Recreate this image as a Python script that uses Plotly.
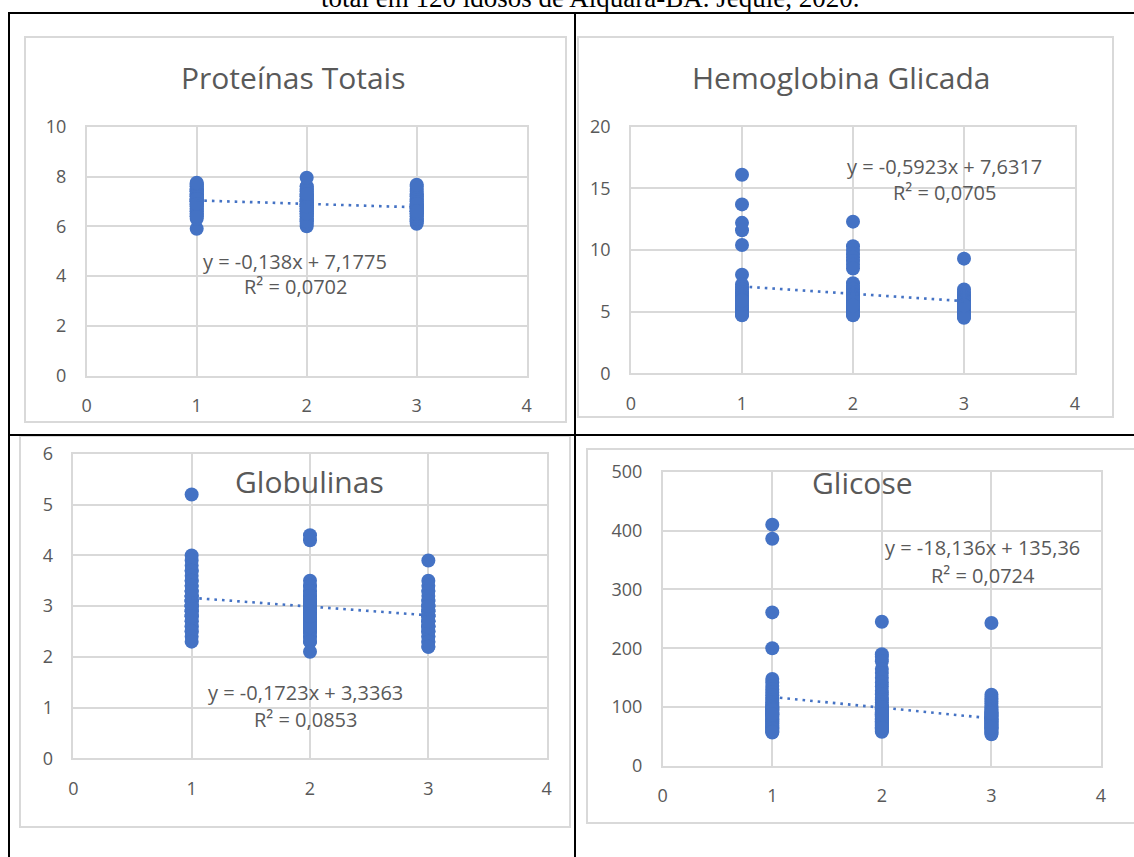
import plotly.graph_objects as go

W, H = 1134, 857

# ---- data: values per group (x = 1, 2, 3) ----
group_x = [1, 2, 3]

prot_g1 = [5.9, 6.3, 6.4, 6.5, 6.5, 6.6, 6.6, 6.7, 6.7, 6.8, 6.8, 6.9, 6.9, 7.0, 7.0, 7.0,
           7.1, 7.1, 7.1, 7.2, 7.2, 7.2, 7.3, 7.3, 7.3, 7.4, 7.4, 7.4, 7.5, 7.5, 7.5, 7.6,
           7.6, 7.7, 7.7, 7.75, 6.4, 7.0, 7.1, 6.9]
prot_g2 = [6.0, 6.1, 6.2, 6.3, 6.3, 6.4, 6.4, 6.5, 6.5, 6.6, 6.6, 6.7, 6.7, 6.7, 6.8, 6.8,
           6.8, 6.9, 6.9, 6.9, 7.0, 7.0, 7.0, 7.1, 7.1, 7.1, 7.2, 7.2, 7.3, 7.3, 7.4, 7.4,
           7.5, 7.5, 7.6, 7.6, 7.95, 6.2, 6.6, 7.0, 6.9, 7.2, 6.5, 6.8, 7.3]
prot_g3 = [6.1, 6.2, 6.2, 6.3, 6.3, 6.4, 6.4, 6.5, 6.5, 6.6, 6.6, 6.6, 6.7, 6.7, 6.7, 6.8,
           6.8, 6.8, 6.9, 6.9, 7.0, 7.0, 7.1, 7.1, 7.2, 7.2, 7.3, 7.3, 7.4, 7.5, 7.6, 7.67,
           6.5, 6.9, 6.6]

hba_g1 = [16.1, 13.7, 12.2, 11.6, 10.4, 8.0, 7.2, 7.0, 6.8, 6.6, 6.5, 6.3, 6.2, 6.1, 6.0,
          5.9, 5.8, 5.8, 5.7, 5.6, 5.6, 5.5, 5.5, 5.4, 5.4, 5.3, 5.3, 5.2, 5.2, 5.1, 5.1,
          5.0, 5.0, 4.9, 4.9, 4.8, 4.8, 4.7, 5.6, 5.9]
hba_g2 = [12.3, 10.3, 10.0, 9.7, 9.4, 9.1, 8.8, 8.5, 7.3, 7.1, 6.9, 6.8, 6.6, 6.5, 6.4, 6.3,
          6.2, 6.1, 6.0, 5.9, 5.8, 5.8, 5.7, 5.6, 5.6, 5.5, 5.5, 5.4, 5.4, 5.3, 5.3, 5.2,
          5.2, 5.1, 5.1, 5.0, 5.0, 4.9, 4.9, 4.8, 4.8, 4.7, 5.7, 6.0, 5.5]
hba_g3 = [9.3, 6.8, 6.6, 6.4, 6.3, 6.2, 6.1, 6.0, 5.9, 5.8, 5.7, 5.6, 5.6, 5.5, 5.5, 5.4,
          5.4, 5.3, 5.3, 5.2, 5.2, 5.1, 5.1, 5.0, 5.0, 4.9, 4.9, 4.8, 4.8, 4.7, 4.7, 4.6,
          4.6, 4.5, 5.5]

glob_g1 = [5.2, 4.0, 3.9, 3.8, 3.7, 3.7, 3.6, 3.5, 3.5, 3.4, 3.4, 3.3, 3.3, 3.2, 3.2, 3.2,
           3.1, 3.1, 3.1, 3.0, 3.0, 3.0, 2.9, 2.9, 2.8, 2.8, 2.7, 2.7, 2.6, 2.6, 2.5, 2.5,
           2.4, 2.3, 3.1, 3.3, 2.9, 3.0, 3.2, 2.8]
glob_g2 = [4.4, 4.3, 3.5, 3.4, 3.4, 3.3, 3.3, 3.2, 3.2, 3.1, 3.1, 3.1, 3.0, 3.0, 3.0, 2.9,
           2.9, 2.9, 2.8, 2.8, 2.8, 2.7, 2.7, 2.7, 2.6, 2.6, 2.6, 2.5, 2.5, 2.5, 2.4, 2.4,
           2.3, 2.3, 2.1, 3.0, 2.9, 2.8, 3.2, 3.1, 2.7, 2.6, 3.0, 2.9, 2.8]
glob_g3 = [3.9, 3.5, 3.4, 3.3, 3.3, 3.2, 3.1, 3.1, 3.0, 3.0, 2.9, 2.9, 2.8, 2.8, 2.8, 2.7,
           2.7, 2.7, 2.6, 2.6, 2.6, 2.5, 2.5, 2.5, 2.4, 2.4, 2.3, 2.3, 2.2, 2.2, 2.8, 2.9,
           3.0, 2.6, 2.7]

glic_g1 = [410, 386, 261, 200, 148, 142, 136, 130, 125, 120, 116, 112, 108, 105, 102, 100,
           98, 96, 94, 92, 90, 88, 86, 84, 82, 80, 78, 76, 74, 72, 70, 68, 66, 64, 62, 60,
           58, 57, 95, 88]
glic_g2 = [245, 190, 185, 178, 165, 158, 150, 142, 135, 128, 122, 116, 112, 108, 104, 100,
           98, 95, 92, 90, 88, 86, 84, 82, 80, 78, 76, 74, 72, 70, 68, 66, 64, 62, 60, 58,
           90, 85, 80, 75, 95, 70, 100, 65, 88]
glic_g3 = [243, 121, 115, 110, 106, 102, 99, 96, 94, 92, 90, 88, 86, 84, 82, 80, 78, 76, 74,
           72, 70, 68, 66, 64, 62, 60, 58, 56, 54, 85, 80, 75, 70, 90, 65]

# chart titles, trendline coefficients and their labels
titles = ["Proteínas Totais", "Hemoglobina Glicada", "Globulinas", "Glicose"]
slopes = [-0.138, -0.5923, -0.1723, -18.136]
intercepts = [7.1775, 7.6317, 3.3363, 135.36]
eq_labels = ["y = -0,138x + 7,1775", "y = -0,5923x + 7,6317",
             "y = -0,1723x + 3,3363", "y = -18,136x + 135,36"]
r2_labels = ["R² = 0,0702", "R² = 0,0705", "R² = 0,0853", "R² = 0,0724"]
y_max = [10, 20, 6, 500]
y_step = [2, 5, 1, 100]
x_ticks = [0, 1, 2, 3, 4]
caption = "total em 120 idosos de Aiquara-BA. Jequié, 2020."

series = [
    [prot_g1, prot_g2, prot_g3],
    [hba_g1, hba_g2, hba_g3],
    [glob_g1, glob_g2, glob_g3],
    [glic_g1, glic_g2, glic_g3],
]

# ---- layout geometry (pixels) ----
plot_boxes = [  # x0, x1, y0(top), y1(bottom)
    (86.7, 526.7, 126.7, 375.7),
    (631.0, 1075.0, 126.7, 373.3),
    (73.3, 546.7, 454.0, 758.3),
    (662.7, 1101.0, 471.7, 766.0),
]
chart_frames = [
    (25, 566, 37, 422),
    (578, 1113, 37, 417),
    (20, 570, 436, 827),
    (587, 1140, 449, 823),
]
title_pos = [(293, 77), (841, 77), (309, 481), (862, 482)]
eq_pos = [(295, 262), (944, 166), (305, 692), (982, 547)]
r2_pos = [(295, 287), (944, 192), (305, 719), (983, 575)]

BLUE = "#4472C4"
GRID = "#D9D9D9"
TXT = "#595959"
FONT = "Open Sans"


def fx(p):
    return p / W


def fy(p):
    return 1 - p / H


fig = go.Figure()
annotations = []
shapes = []

for i in range(4):
    n = i + 1
    xa = "x" if n == 1 else f"x{n}"
    ya = "y" if n == 1 else f"y{n}"
    xs, ys = [], []
    for gx, vals in zip(group_x, series[i]):
        xs += [gx] * len(vals)
        ys += vals
    fig.add_trace(go.Scatter(
        x=xs, y=ys, mode="markers", xaxis=xa, yaxis=ya, showlegend=False,
        marker=dict(size=14, color=BLUE, line=dict(width=0)),
        hoverinfo="skip", cliponaxis=False))
    tx = [group_x[0], group_x[-1]]
    ty = [slopes[i] * v + intercepts[i] for v in tx]
    fig.add_trace(go.Scatter(
        x=tx, y=ty, mode="lines", xaxis=xa, yaxis=ya, showlegend=False,
        line=dict(color=BLUE, width=2.6, dash="2.6px,5px"), hoverinfo="skip"))

    x0, x1, yt, yb = plot_boxes[i]
    axis_common = dict(
        showgrid=True, gridcolor=GRID, gridwidth=1.5, zeroline=False,
        showline=True, mirror=True, linecolor=GRID, linewidth=1.5,
        ticks="", tickfont=dict(family=FONT, size=18, color=TXT),
        automargin=False,
    )
    fig.update_layout(**{
        ("xaxis" if n == 1 else f"xaxis{n}"): dict(
            domain=[fx(x0), fx(x1)], range=[0, 4], tickvals=x_ticks,
            anchor=ya, ticklabelstandoff=13, **axis_common),
        ("yaxis" if n == 1 else f"yaxis{n}"): dict(
            domain=[fy(yb), fy(yt)], range=[0, y_max[i]], dtick=y_step[i],
            tick0=0, anchor=xa, ticklabelstandoff=15, **axis_common),
    })

    fl, fr, ft, fb = chart_frames[i]
    shapes.append(dict(type="rect", xref="paper", yref="paper",
                       x0=fx(fl), x1=fx(fr), y0=fy(fb), y1=fy(ft),
                       line=dict(color=GRID, width=2), layer="below"))

    tx_, ty_ = title_pos[i]
    annotations.append(dict(text=titles[i], x=fx(tx_), y=fy(ty_), xref="paper",
                            yref="paper", showarrow=False, xanchor="center",
                            yanchor="middle",
                            font=dict(family=FONT, size=30, color=TXT)))
    ex, ey = eq_pos[i]
    annotations.append(dict(text=eq_labels[i], x=fx(ex), y=fy(ey), xref="paper",
                            yref="paper", showarrow=False, xanchor="center",
                            yanchor="middle",
                            font=dict(family=FONT, size=20, color=TXT)))
    rx, ry = r2_pos[i]
    annotations.append(dict(text=r2_labels[i], x=fx(rx), y=fy(ry), xref="paper",
                            yref="paper", showarrow=False, xanchor="center",
                            yanchor="middle",
                            font=dict(family=FONT, size=20, color=TXT)))

# caption line of the document page, partly cut at the top edge
annotations.append(dict(text=caption, x=fx(590), y=fy(15), xref="paper", yref="paper",
                        showarrow=False, xanchor="center", yanchor="bottom",
                        font=dict(family="Liberation Serif", size=27, color="#000000")))

# table borders
table_lines = [
    (8, 13, 1134, 13),
    (9, 13, 9, 857),
    (575, 13, 575, 857),
    (8, 435, 1134, 435),
]
for a, b, c, d in table_lines:
    shapes.append(dict(type="line", xref="paper", yref="paper",
                       x0=fx(a), y0=fy(b), x1=fx(c), y1=fy(d),
                       line=dict(color="#000000", width=2), layer="above"))

fig.update_layout(
    width=W, height=H,
    margin=dict(l=0, r=0, t=0, b=0, pad=0, autoexpand=False),
    paper_bgcolor="white", plot_bgcolor="white",
    shapes=shapes, annotations=annotations, showlegend=False,
)

fig.write_html("out.html")
